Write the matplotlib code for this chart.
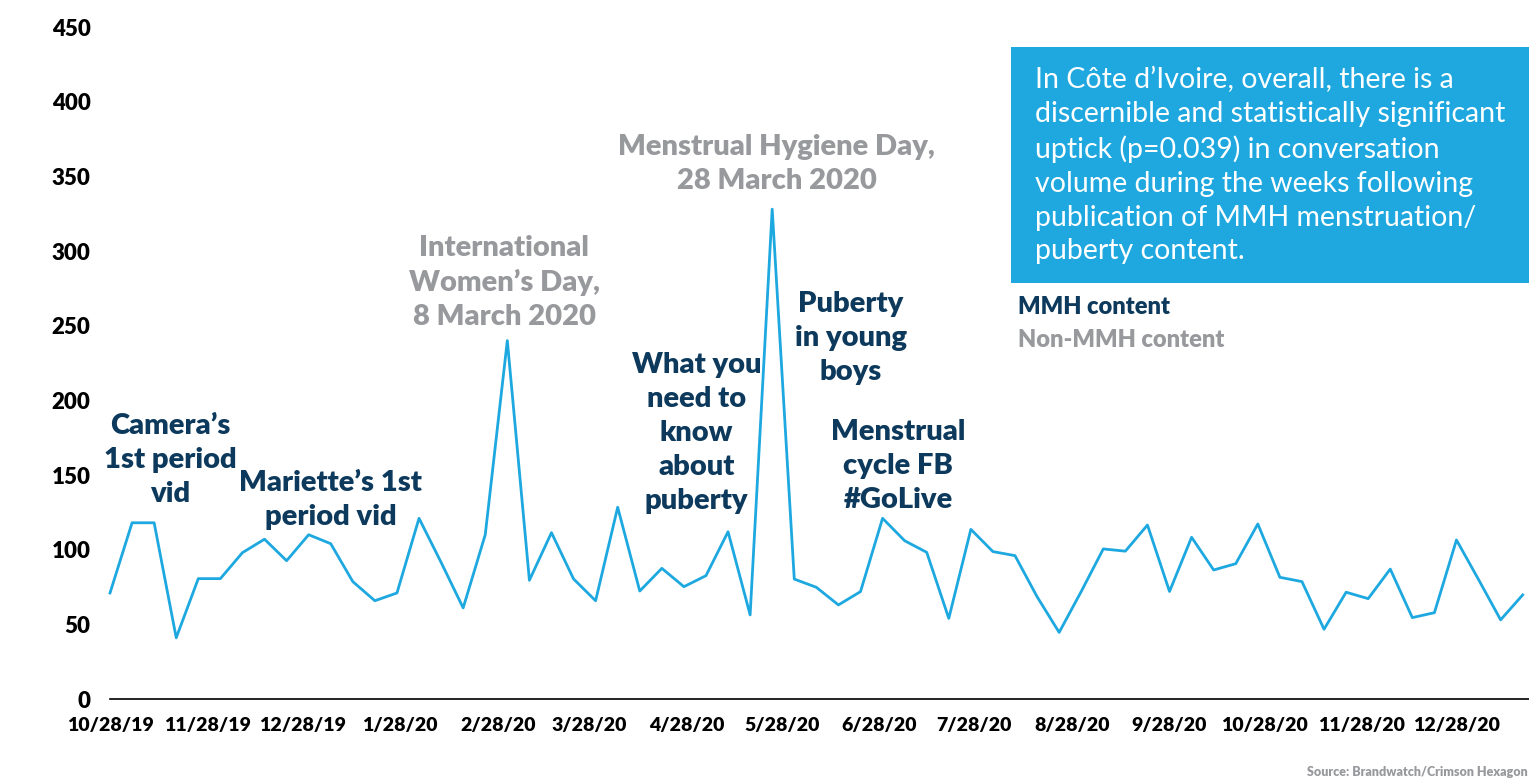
import numpy as np
import pandas as pd
import matplotlib
matplotlib.use('Agg')
import matplotlib.pyplot as plt
from matplotlib.patches import Rectangle

plt.rcParams['font.family'] = ['Lato', 'DejaVu Sans']

# weekly conversation volume, starting 28 Oct 2019
start = '2019-10-28'
volume = [71, 118, 118, 41, 80.6, 80.6, 98, 107, 92.6, 110,
          104, 78.6, 65.8, 71, 121, 91.5, 61, 110, 240, 79.5,
          111.4, 80.4, 65.8, 128.4, 72.3, 87.5, 75.2, 82.6, 112, 56.3,
          328, 80.3, 74.8, 63, 71.9, 121, 106, 98.2, 54, 113.6,
          98.7, 96, 68.5, 44.6, 72, 100.5, 99, 116.5, 72, 108.3,
          86.4, 90.6, 117.2, 81.5, 78.6, 46.7, 71.5, 67.2, 87, 54.5,
          57.8, 106.5, 80, 53, 69.7]
weeks = pd.date_range(start, periods=len(volume), freq='7D')

tick_dates = pd.date_range('2019-10-01', '2020-12-01', freq='MS') + pd.Timedelta(days=27)
tick_labels = [f'{d.month}/{d.day}/{d.strftime("%y")}' for d in tick_dates]

mmh_notes = [
    ('Camera\u2019s\n1st period\nvid', 19, 160),
    ('Mariette\u2019s 1st\nperiod vid', 70, 133),
    ('What you\nneed to\nknow\nabout\npuberty', 186, 178),
    ('Puberty\nin young\nboys', 235, 242),
    ('Menstrual\ncycle FB\n#GoLive', 250, 156),
]
other_notes = [
    ('International\nWomen\u2019s Day,\n8 March 2020', 125, 279),
    ('Menstrual Hygiene Day,\n28 March 2020', 211.5, 358),
]

navy = '#0d3a5c'
grey = '#98999c'
blue = '#1da8e0'

fig = plt.figure(figsize=(15.29, 7.79), dpi=100)
ax = fig.add_axes([110 / 1529, 1 - 699 / 779, 1 - 110 / 1529, (699 - 27) / 779])

ax.plot(weeks, volume, color=blue, lw=2.0, clip_on=False)

t0 = pd.Timestamp(start)
ax.set_xlim(t0, t0 + pd.Timedelta(days=450))
ax.set_ylim(0, 450)
ax.set_yticks(range(0, 451, 50))
ax.set_xticks(tick_dates)
ax.set_xticklabels(tick_labels)
ax.tick_params(axis='y', length=0, pad=14, labelsize=16)
ax.tick_params(axis='x', length=0, pad=13, labelsize=14)
for lab in ax.get_xticklabels() + ax.get_yticklabels():
    lab.set_fontweight('heavy')

for s in ['top', 'right', 'left']:
    ax.spines[s].set_visible(False)
ax.spines['bottom'].set_linewidth(1.2)

for txt, day, val in mmh_notes:
    ax.text(t0 + pd.Timedelta(days=day), val, txt, ha='center', va='center',
            color=navy, fontsize=21, fontweight='heavy', linespacing=1.38)
for txt, day, val in other_notes:
    ax.text(t0 + pd.Timedelta(days=day), val, txt, ha='center', va='center',
            color=grey, fontsize=21, fontweight='heavy', linespacing=1.38)

# call-out box
fig.add_artist(Rectangle((1011 / 1529, 1 - 283 / 779), (1529 - 1011) / 1529, (283 - 47) / 779,
                         transform=fig.transFigure, facecolor='#1ea8df', edgecolor='none'))
fig.text(1035 / 1529, 1 - 67 / 779,
         'In C\u00f4te d\u2019Ivoire, overall, there is a\n'
         'discernible and statistically significant\n'
         'uptick (p=0.039) in conversation\n'
         'volume during the weeks following\n'
         'publication of MMH menstruation/\n'
         'puberty content.',
         color='white', fontsize=20.5, ha='left', va='top', linespacing=1.37)

fig.text(1018 / 1529, 1 - 307 / 779, 'MMH content', color=navy, fontsize=17,
         fontweight='heavy', va='center')
fig.text(1018 / 1529, 1 - 340 / 779, 'Non-MMH content', color=grey, fontsize=17,
         fontweight='heavy', va='center')
fig.text(1307 / 1529, 1 - 772 / 779, 'Source: Brandwatch/Crimson Hexagon', color=grey,
         fontsize=9, fontweight='heavy', va='center')

fig.savefig('out.png', dpi=100)
plt.close()
